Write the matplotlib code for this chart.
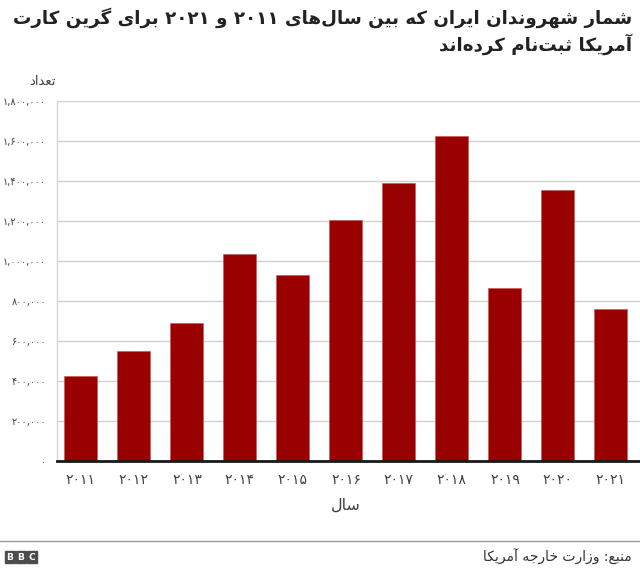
import re
import matplotlib
matplotlib.use('Agg')
import matplotlib.pyplot as plt
from matplotlib.patches import Rectangle
from matplotlib.lines import Line2D

# Data
years = [2011, 2012, 2013, 2014, 2015, 2016, 2017, 2018, 2019, 2020, 2021]
registrations = [423000, 548000, 688000, 1033000, 928000, 1205000,
                 1388000, 1625000, 865000, 1353000, 758000]
yticks = [0, 200000, 400000, 600000, 800000, 1000000,
          1200000, 1400000, 1600000, 1800000]

title_lines = ['شمار شهروندان ایران که بین سال‌های ۲۰۱۱ و ۲۰۲۱ برای گرین کارت',
               'آمریکا ثبت‌نام کرده‌اند']
ylabel = 'تعداد'
xlabel = 'سال'
source = 'منبع: وزارت خارجه آمریکا'

# Persian digits
FA = str.maketrans('0123456789', '۰۱۲۳۴۵۶۷۸۹')

# Arabic presentation forms: isolated, final, initial, medial
FORMS = {
    '\u0622': ('\uFE81', '\uFE82', None, None),
    '\u0627': ('\uFE8D', '\uFE8E', None, None),
    '\u0628': ('\uFE8F', '\uFE90', '\uFE91', '\uFE92'),
    '\u062A': ('\uFE95', '\uFE96', '\uFE97', '\uFE98'),
    '\u062B': ('\uFE99', '\uFE9A', '\uFE9B', '\uFE9C'),
    '\u062C': ('\uFE9D', '\uFE9E', '\uFE9F', '\uFEA0'),
    '\u062D': ('\uFEA1', '\uFEA2', '\uFEA3', '\uFEA4'),
    '\u062E': ('\uFEA5', '\uFEA6', '\uFEA7', '\uFEA8'),
    '\u062F': ('\uFEA9', '\uFEAA', None, None),
    '\u0630': ('\uFEAB', '\uFEAC', None, None),
    '\u0631': ('\uFEAD', '\uFEAE', None, None),
    '\u0632': ('\uFEAF', '\uFEB0', None, None),
    '\u0633': ('\uFEB1', '\uFEB2', '\uFEB3', '\uFEB4'),
    '\u0634': ('\uFEB5', '\uFEB6', '\uFEB7', '\uFEB8'),
    '\u0639': ('\uFEC9', '\uFECA', '\uFECB', '\uFECC'),
    '\u0644': ('\uFEDD', '\uFEDE', '\uFEDF', '\uFEE0'),
    '\u0645': ('\uFEE1', '\uFEE2', '\uFEE3', '\uFEE4'),
    '\u0646': ('\uFEE5', '\uFEE6', '\uFEE7', '\uFEE8'),
    '\u0647': ('\uFEE9', '\uFEEA', '\uFEEB', '\uFEEC'),
    '\u0648': ('\uFEED', '\uFEEE', None, None),
    '\u06A9': ('\uFB8E', '\uFB8F', '\uFB90', '\uFB91'),
    '\u06AF': ('\uFB92', '\uFB93', '\uFB94', '\uFB95'),
    '\u06CC': ('\uFBFC', '\uFBFD', '\uFBFE', '\uFBFF'),
}


def fa(s):
    # join letters and put the text in visual (left-to-right) order
    s = s.replace('\u064A', '\u06CC').replace('\u0643', '\u06A9')
    out = []
    for i, c in enumerate(s):
        if c not in FORMS:
            out.append(c)
            continue
        prev = s[i - 1] if i > 0 else ''
        nxt = s[i + 1] if i + 1 < len(s) else ''
        jp = prev in FORMS and FORMS[prev][2] is not None
        jn = FORMS[c][2] is not None and nxt in FORMS
        iso, fin, ini, med = FORMS[c]
        out.append(med if jp and jn else fin if jp else ini if jn else iso)
    s = ''.join(out).replace('\u200c', '')
    runs = re.findall(r'[0-9\u06F0-\u06F9]+(?:[,.][0-9\u06F0-\u06F9]+)*|[^0-9\u06F0-\u06F9]+', s)
    return ''.join(r if r[0].isdigit() else r[::-1] for r in reversed(runs))


plt.rcParams['font.family'] = ['DejaVu Sans']
W, H = 640, 572
fig = plt.figure(figsize=(6.4, 5.72), dpi=100)
ax = fig.add_axes([57 / W, (H - 461) / H, (W - 57) / W, 360 / H])

x = list(range(len(years)))
ax.bar(x, registrations, width=0.62, color='#990000', edgecolor='#c85a5a',
       linewidth=0.5, zorder=3)
ax.set_xlim(-0.45, 10.55)
ax.set_ylim(0, 1800000)
ax.set_yticks(yticks)
ax.set_yticklabels([f'{v:,}'.translate(FA) for v in yticks])
ax.set_xticks(x)
ax.set_xticklabels([str(y).translate(FA) for y in years])
ax.tick_params(axis='both', length=0, labelcolor='#404040')
ax.tick_params(axis='y', pad=8, labelsize=7)
ax.tick_params(axis='x', pad=9, labelsize=10)
ax.grid(axis='y', color='#d0d0d0', linewidth=1, zorder=0)
for s in ['top', 'right']:
    ax.spines[s].set_visible(False)
ax.spines['left'].set_color('#d6d6d6')
ax.spines['left'].set_linewidth(1)
ax.spines['bottom'].set_color('#1a1a1a')
ax.spines['bottom'].set_linewidth(2)
ax.spines['bottom'].set_zorder(4)

ax.text(5, 1 - (505 - 101) / 360, fa(xlabel), transform=ax.get_xaxis_transform(),
        ha='center', va='center', fontsize=11.5, color='#404040')
fig.text(56 / W, 1 - 81 / H, fa(ylabel), ha='right', va='center', fontsize=9.5,
         color='#404040')

# title, first line fitted to the width it has in the original
t1 = fig.text(632 / W, 1 - 18 / H, fa(title_lines[0]), ha='right', va='center',
              fontsize=14, fontweight='bold', color='#222222')
renderer = fig.canvas.get_renderer()
size = 14 * 622 / t1.get_window_extent(renderer).width
t1.set_fontsize(size)
fig.text(632 / W, 1 - 44 / H, fa(title_lines[1]), ha='right', va='center',
         fontsize=size, fontweight='bold', color='#222222')

# footer
fig.add_artist(Line2D([0, 1], [1 - 541 / H] * 2, color='#999999', linewidth=1))
fig.text(632 / W, 1 - 557 / H, fa(source), ha='right', va='center',
         fontsize=10, color='#333333')
for i, letter in enumerate('BBC'):
    x0 = (5 + i * 11) / W
    fig.add_artist(Rectangle((x0, 1 - 563 / H), 10 / W, 12 / H,
                             color='#4d4d4d', transform=fig.transFigure))
    fig.text(x0 + 5 / W, 1 - 557 / H, letter, ha='center', va='center',
             fontsize=6.5, fontweight='bold', color='white')

fig.savefig('out.png', dpi=100)
